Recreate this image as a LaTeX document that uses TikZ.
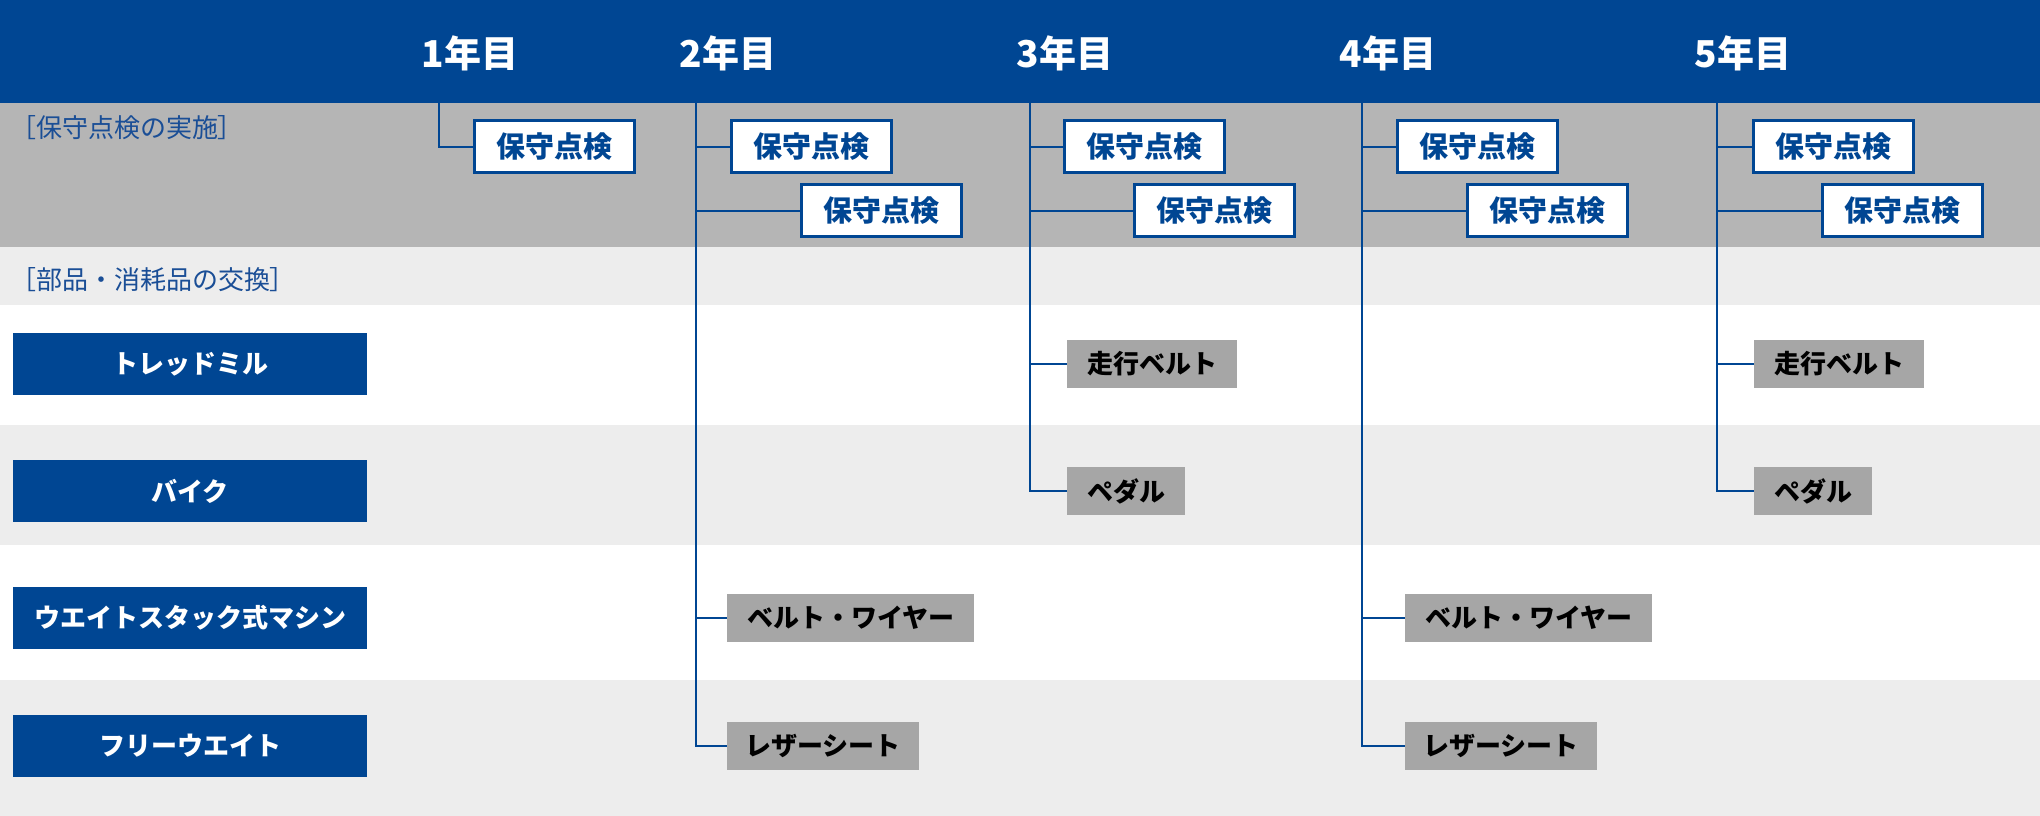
\documentclass[tikz,border=0pt]{standalone}
\usepackage{fontspec}
\setmainfont{Noto Sans CJK JP}
\newfontfamily\jpp{Noto Sans CJK JP}[RawFeature=+palt]
\definecolor{navy}{HTML}{004693}
\definecolor{lblblue}{HTML}{1A4E96}
\definecolor{bandgray}{HTML}{B5B5B5}
\definecolor{bandlight}{HTML}{EDEDED}
\definecolor{partgray}{HTML}{A6A6A6}
\tikzset{
 hdr/.style={text=white,font=\fontsize{37}{40}\selectfont\bfseries,inner sep=0},
 insp/.style={draw=navy,line width=3pt,fill=white,text=navy,font=\fontsize{29}{32}\selectfont\bfseries,minimum width=160pt,minimum height=52pt,inner sep=0},
 part/.style={fill=partgray,text=black,font=\fontsize{26}{30}\selectfont\bfseries,minimum height=48pt,inner sep=0,anchor=west},
 cat/.style={fill=navy,text=white,font=\fontsize{26}{30}\selectfont\bfseries,minimum width=354pt,minimum height=62pt,inner sep=0},
 lbl/.style={text=lblblue,font=\fontsize{26}{30}\selectfont,anchor=west,inner sep=0},
 conn/.style={draw=navy,line width=2pt},
}
\begin{document}
\begin{tikzpicture}[x=1pt,y=-1pt]
\useasboundingbox (0,0) rectangle (2040,816);
% bands
\fill[navy] (0,0) rectangle (2040,103);
\fill[bandgray] (0,103) rectangle (2040,247);
\fill[bandlight] (0,247) rectangle (2040,305);
\fill[white] (0,305) rectangle (2040,425);
\fill[bandlight] (0,425) rectangle (2040,545);
\fill[white] (0,545) rectangle (2040,680);
\fill[bandlight] (0,680) rectangle (2040,816);
% year headers
\node[hdr] (h1) at (470,53) {1年目};
\node[hdr] (h2) at (728,53) {2年目};
\node[hdr] (h3) at (1065,53) {3年目};
\node[hdr] (h4) at (1388,53) {4年目};
\node[hdr] (h5) at (1743,53) {5年目};
% section labels
\node[lbl] (l1) at (23,128) {{\jpp［}保守点検の実施{\jpp］}};
\node[lbl] (l2) at (23,280) {{\jpp［}部品・消耗品の交換{\jpp］}};
% categories
\node[cat] (c1) at (190,364) {トレッドミル};
\node[cat] (c2) at (190,491) {バイク};
\node[cat] (c3) at (190,618) {ウエイトスタック式マシン};
\node[cat] (c4) at (190,746) {フリーウエイト};
% inspections
\node[insp] (i1) at (554.5,146.5) {保守点検};
\node[insp] (i2a) at (811,146.5) {保守点検};
\node[insp] (i2b) at (881,210.5) {保守点検};
\node[insp] (i3a) at (1144.5,146.5) {保守点検};
\node[insp] (i3b) at (1214,210.5) {保守点検};
\node[insp] (i4a) at (1477.5,146.5) {保守点検};
\node[insp] (i4b) at (1547,210.5) {保守点検};
\node[insp] (i5a) at (1833,146.5) {保守点検};
\node[insp] (i5b) at (1902,210.5) {保守点検};
% parts
\node[part,minimum width=247pt] (p2a) at (727,618) {ベルト・ワイヤー};
\node[part,minimum width=192pt] (p2b) at (727,746) {レザーシート};
\node[part,minimum width=170pt] (p3a) at (1067,363.5) {走行ベルト};
\node[part,minimum width=118pt] (p3b) at (1067,491) {ペダル};
\node[part,minimum width=247pt] (p4a) at (1405,618) {ベルト・ワイヤー};
\node[part,minimum width=192pt] (p4b) at (1405,746) {レザーシート};
\node[part,minimum width=170pt] (p5a) at (1754,363.5) {走行ベルト};
\node[part,minimum width=118pt] (p5b) at (1754,491) {ペダル};
% connectors
\coordinate (y1) at (439,103);
\coordinate (y2) at (696,103);
\coordinate (y3) at (1030,103);
\coordinate (y4) at (1362,103);
\coordinate (y5) at (1717,103);
\draw[conn] (y1) |- (i1.west);
\draw[conn] (y2) |- (i2a.west);
\draw[conn] (y2) |- (i2b.west);
\draw[conn] (y2) |- (p2a.west);
\draw[conn] (y2) |- (p2b.west);
\draw[conn] (y3) |- (i3a.west);
\draw[conn] (y3) |- (i3b.west);
\draw[conn] (y3) |- (p3a.west);
\draw[conn] (y3) |- (p3b.west);
\draw[conn] (y4) |- (i4a.west);
\draw[conn] (y4) |- (i4b.west);
\draw[conn] (y4) |- (p4a.west);
\draw[conn] (y4) |- (p4b.west);
\draw[conn] (y5) |- (i5a.west);
\draw[conn] (y5) |- (i5b.west);
\draw[conn] (y5) |- (p5a.west);
\draw[conn] (y5) |- (p5b.west);
\end{tikzpicture}
\end{document}
